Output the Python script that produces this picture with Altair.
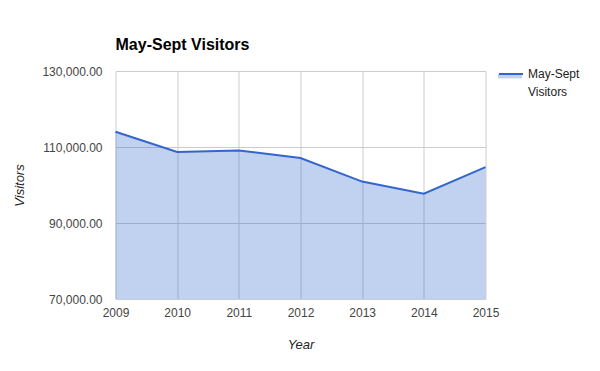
import altair as alt
import pandas as pd

# ---- data ----
years = [2009, 2010, 2011, 2012, 2013, 2014, 2015]
visitors = [114000, 108700, 109100, 107100, 100900, 97700, 104700]
series_name = "May-Sept Visitors"
y_ticks = [70000, 90000, 110000, 130000]
y_domain = [70000, 130000]

df = pd.DataFrame({"Year": years, "Visitors": visitors, "series": series_name})

FONT = "Liberation Sans"
BLUE = "#3366cc"

x_enc = alt.X(
    "Year:Q",
    scale=alt.Scale(domain=[years[0], years[-1]], nice=False, zero=False),
    axis=alt.Axis(values=years, format="d", title="Year", labelPadding=8.5,
                  titlePadding=20, labelFlush=False),
)
y_enc = alt.Y(
    "Visitors:Q",
    stack=None,
    scale=alt.Scale(domain=y_domain, nice=False, zero=False),
    axis=alt.Axis(values=y_ticks, format=",.2f", title="Visitors", labelPadding=13.5,
                  titlePadding=15, labelFlush=False),
)

area = (
    alt.Chart(df)
    .transform_calculate(series_area="datum.series + ' area'")
    .mark_area(opacity=0.3)
    .encode(
        x=x_enc,
        y=y_enc,
        y2=alt.datum(y_domain[0]),
        fill=alt.Fill(
            "series_area:N",
            scale=alt.Scale(range=[BLUE]),
            legend=alt.Legend(
                orient="none", legendX=382.5, legendY=-10, title=None,
                symbolType="M-1,0.08L1,0.08L1,0.45L-1,0.45Z", symbolSize=576,
                symbolOpacity=0.3, symbolStrokeWidth=0, labelExpr="''",
                padding=0, symbolOffset=0,
            ),
        ),
    )
)

line = (
    alt.Chart(df)
    .mark_line(strokeWidth=2)
    .encode(
        x=x_enc,
        y=y_enc,
        color=alt.Color(
            "series:N",
            scale=alt.Scale(range=[BLUE]),
            legend=alt.Legend(
                orient="none", legendX=382.5, legendY=-10, title=None,
                symbolType="stroke", symbolSize=576, symbolStrokeWidth=2,
                labelExpr="split(datum.label, ' ')", labelFont=FONT,
                labelFontSize=12, labelColor="#222", labelOffset=4,
                labelBaseline="middle",
                padding=0, symbolOffset=0,
            ),
        ),
    )
)

chart = (
    alt.layer(area, line)
    .properties(
        width=370,
        height=228,
        autosize=alt.AutoSizeParams(type="none"),
        padding={"left": 107.5, "top": 63, "right": 106.5, "bottom": 64},
        title=alt.TitleParams(
            "May-Sept Visitors", anchor="start", frame="group", font=FONT,
            fontSize=16, fontWeight="bold", color="#000", offset=8.5,
        ),
    )
    .configure(style={"guide-label": {"lineHeight": 18}})
    .configure_axis(
        labelFont=FONT, labelFontSize=12, labelColor="#444",
        titleFont=FONT, titleFontSize=13, titleFontStyle="italic",
        titleFontWeight="normal", titleColor="#222",
        gridColor="#cccccc", gridWidth=1, domain=False, ticks=False, tickSize=0,
    )
    .configure_view(stroke=None)
)

chart.save("out.html", embed_options={"renderer": "svg", "actions": False})
